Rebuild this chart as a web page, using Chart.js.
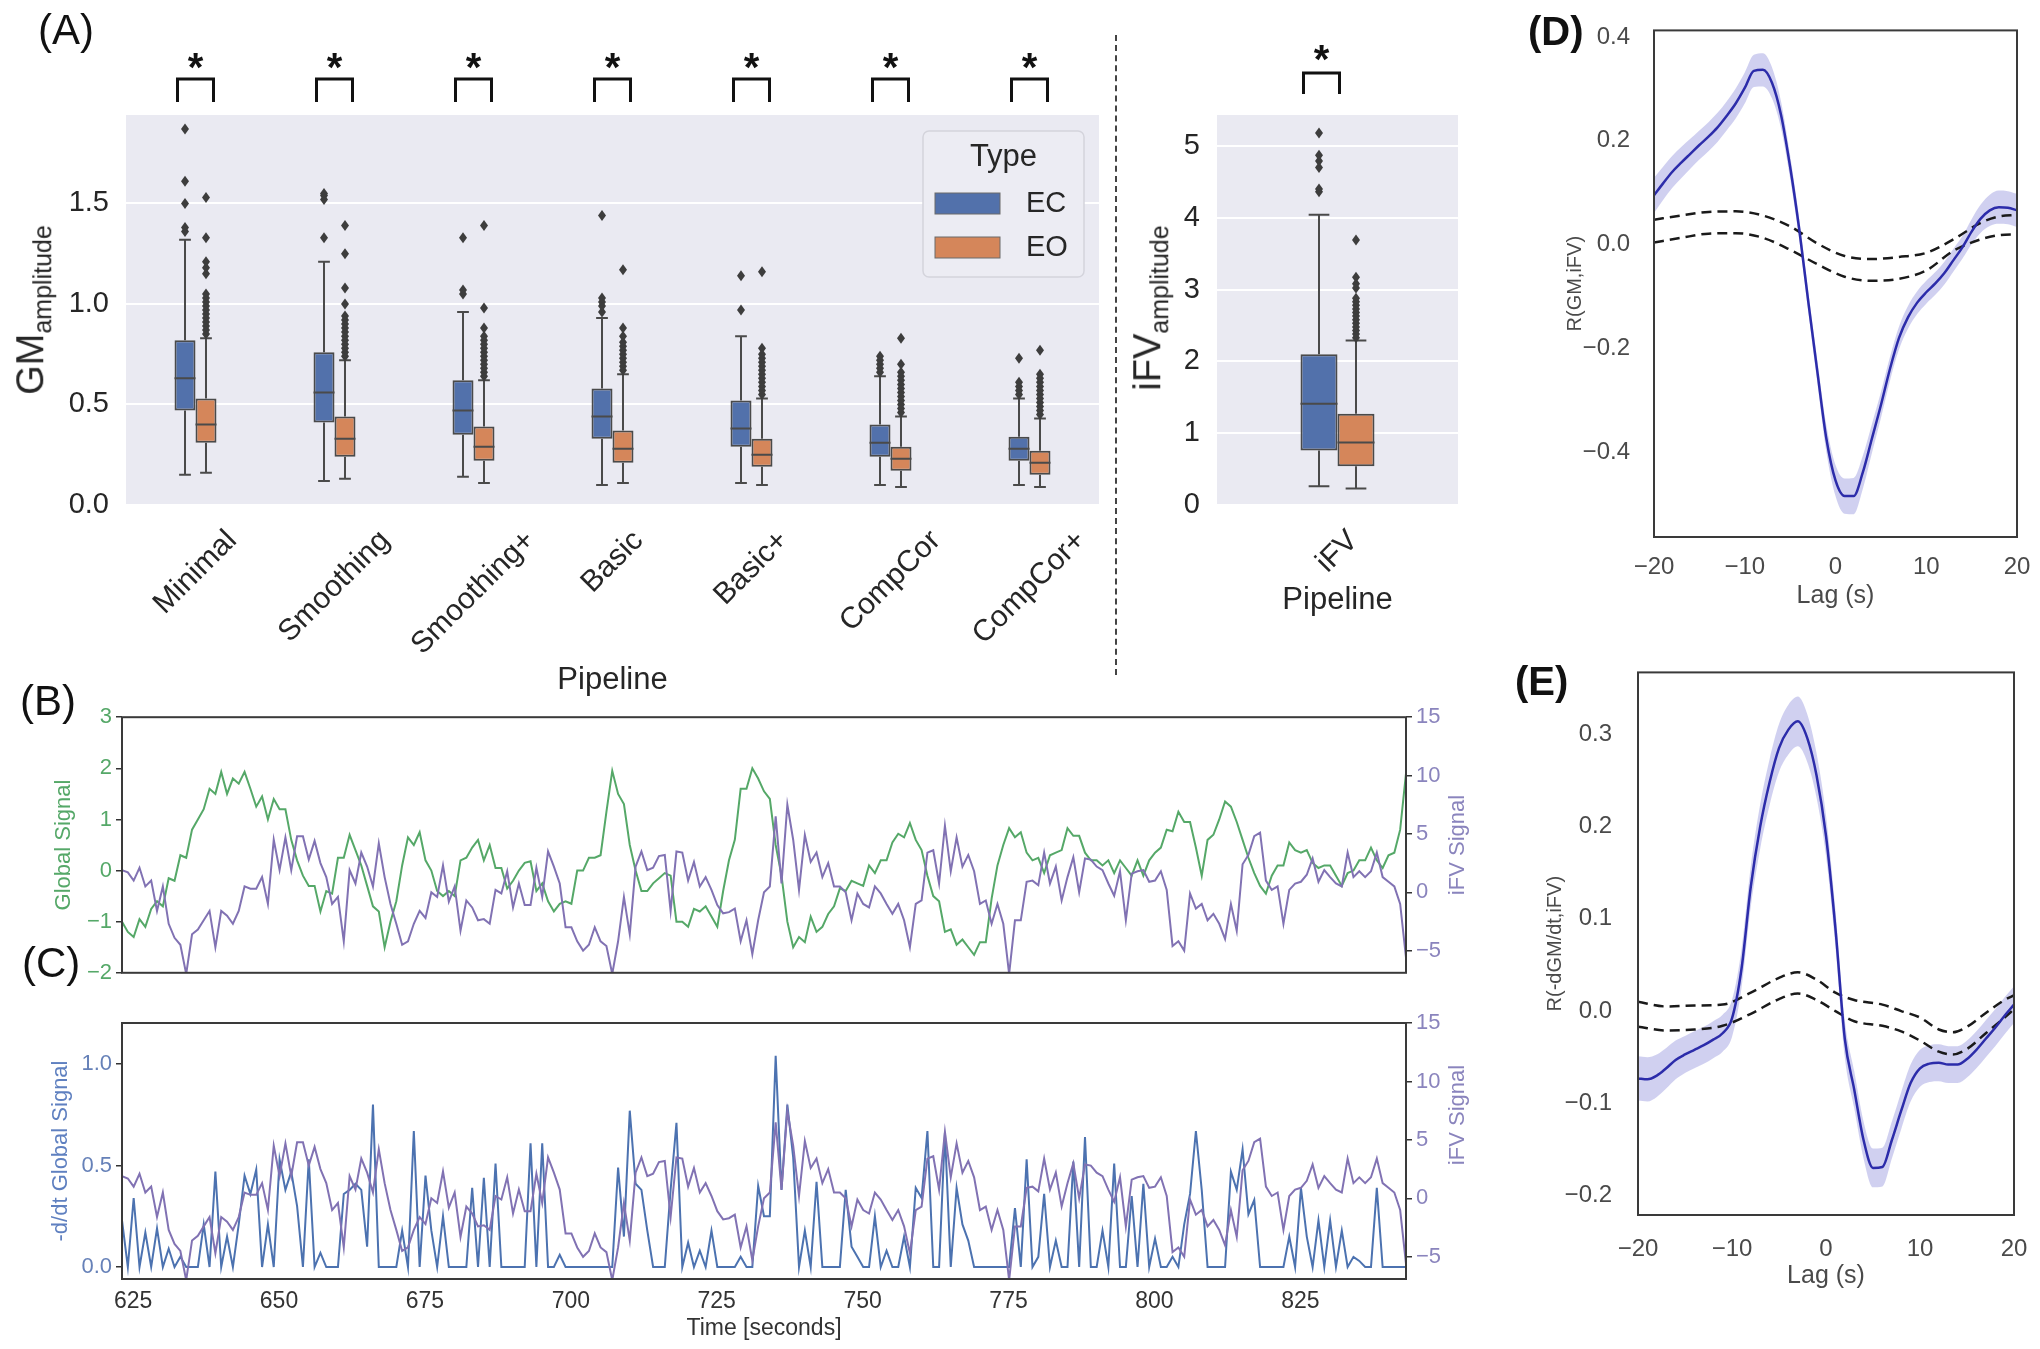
<!DOCTYPE html>
<html lang="en">
<head>
<meta charset="UTF-8">
<title>GM / iFV amplitude, signals and lagged correlation</title>
<script src="https://cdn.jsdelivr.net/npm/chart.js"></script>
<style>
  body { margin: 0; background: #fff; }
  #fig { position: relative; width: 2040px; height: 1349px; overflow: hidden;
         font-family: 'Liberation Sans', Arial, sans-serif; color: #262626; }
  #fig canvas { position: absolute; }
  .tag { position: absolute; font-size: 42px; line-height: 42px; color: #111; white-space: nowrap; }
  .tag.bold { font-weight: bold; font-size: 40px; line-height: 40px; }
  .vlab { position: absolute; white-space: nowrap; transform: translate(-50%, -50%) rotate(-90deg); }
  .vlab sub { font-size: 25px; vertical-align: -0.3em; }
  #divider { position: absolute; left: 1115px; top: 35px; height: 640px; border-left: 2px dashed #444; }
</style>
</head>
<body>
<div id="fig">
  <canvas id="cA" width="1110" height="700" style="left:0;top:0"></canvas>
  <canvas id="cI" width="350" height="700" style="left:1120px;top:0"></canvas>
  <canvas id="cD" width="480" height="640" style="left:1560px;top:0"></canvas>
  <canvas id="cE" width="520" height="709" style="left:1520px;top:640px"></canvas>
  <canvas id="cB" width="1480" height="290" style="left:0;top:700px"></canvas>
  <canvas id="cC" width="1480" height="359" style="left:0;top:990px"></canvas>

  <div id="divider"></div>
  <div class="tag" style="left:38px;top:9px">(A)</div>
  <div class="tag" style="left:20px;top:680px">(B)</div>
  <div class="tag" style="left:22px;top:942px">(C)</div>
  <div class="tag bold" style="left:1528px;top:11px">(D)</div>
  <div class="tag bold" style="left:1515px;top:661px">(E)</div>
  <div class="vlab" style="left:33px;top:310px;font-size:38px">GM<sub>amplitude</sub></div>
  <div class="vlab" style="left:1150px;top:308px;font-size:38px">iFV<sub>amplitude</sub></div>
  <div class="vlab" style="left:1457px;top:845px;font-size:22px;color:#8a84bd">iFV Signal</div>
  <div class="vlab" style="left:1457px;top:1115px;font-size:22px;color:#8a84bd">iFV Signal</div>
</div>

<script>
// ---- (A) box plots: [lower whisker, q1, median, q3, upper whisker]
const pipelines = ['Minimal', 'Smoothing', 'Smoothing+', 'Basic', 'Basic+', 'CompCor', 'CompCor+'];
const gmEC = [
  [0.15, 0.47, 0.63, 0.82, 1.32],
  [0.12, 0.41, 0.56, 0.76, 1.21],
  [0.14, 0.35, 0.47, 0.62, 0.96],
  [0.10, 0.33, 0.44, 0.58, 0.93],
  [0.11, 0.29, 0.38, 0.52, 0.84],
  [0.10, 0.24, 0.31, 0.40, 0.64],
  [0.10, 0.22, 0.28, 0.34, 0.53]
];
const gmEO = [
  [0.16, 0.31, 0.40, 0.53, 0.83],
  [0.13, 0.24, 0.33, 0.44, 0.72],
  [0.11, 0.22, 0.29, 0.39, 0.62],
  [0.11, 0.21, 0.28, 0.37, 0.65],
  [0.10, 0.19, 0.25, 0.33, 0.53],
  [0.09, 0.17, 0.23, 0.29, 0.44],
  [0.09, 0.15, 0.21, 0.27, 0.43]
];
const gmOutEC = [
  [1.36, 1.38, 1.50, 1.61, 1.87],
  [1.33, 1.52, 1.54, 1.55],
  [1.05, 1.07, 1.33],
  [0.96, 0.99, 1.01, 1.03, 1.44],
  [0.97, 1.14],
  [0.66, 0.68, 0.70, 0.72, 0.74],
  [0.55, 0.57, 0.59, 0.61, 0.73]
];
const gmOutEO = [
  [0.85, 0.87, 0.89, 0.91, 0.93, 0.95, 0.97, 0.99, 1.01, 1.03, 1.05, 1.15, 1.18, 1.21, 1.33, 1.53],
  [0.74, 0.76, 0.78, 0.80, 0.82, 0.84, 0.86, 0.88, 0.90, 0.92, 0.94, 1.00, 1.08, 1.25, 1.39],
  [0.64, 0.66, 0.68, 0.70, 0.72, 0.74, 0.76, 0.78, 0.80, 0.82, 0.84, 0.88, 0.98, 1.39],
  [0.67, 0.69, 0.71, 0.73, 0.75, 0.77, 0.79, 0.81, 0.84, 0.88, 1.17],
  [0.55, 0.57, 0.59, 0.61, 0.63, 0.65, 0.67, 0.69, 0.71, 0.73, 0.75, 0.78, 1.16],
  [0.46, 0.48, 0.50, 0.52, 0.54, 0.56, 0.58, 0.60, 0.62, 0.64, 0.66, 0.70, 0.83],
  [0.45, 0.47, 0.49, 0.51, 0.53, 0.55, 0.57, 0.59, 0.61, 0.63, 0.65, 0.77]
];
const gmTicks = [0, 0.5, 1.0, 1.5];

const ifvLabels = ['iFV'];
const ifvEC = [[0.26, 0.76, 1.41, 2.10, 4.04]];
const ifvEO = [[0.23, 0.54, 0.87, 1.27, 2.29]];
const ifvOutEC = [[4.36, 4.40, 4.70, 4.79, 4.87, 5.18]];
const ifvOutEO = [[2.33, 2.38, 2.43, 2.48, 2.53, 2.58, 2.63, 2.68, 2.73, 2.78, 2.83, 2.88, 3.02, 3.08, 3.17, 3.69]];
const ifvTicks = [0, 1, 2, 3, 4, 5];

// ---- (D)/(E) lagged correlation
const lag = [-20, -19, -18, -17, -16, -15, -14, -13, -12, -11, -10, -9, -8, -7, -6, -5, -4, -3, -2, -1,
             0, 1, 2, 3, 4, 5, 6, 7, 8, 9, 10, 11, 12, 13, 14, 15, 16, 17, 18, 19, 20];
const lagTicks = [-20, -10, 0, 10, 20];
const dMean = [0.095, 0.118, 0.140, 0.158, 0.175, 0.192, 0.208, 0.226, 0.248, 0.272, 0.302, 0.335, 0.337, 0.312,
               0.250, 0.150, 0.030, -0.110, -0.245, -0.375, -0.455, -0.485, -0.485, -0.440, -0.375, -0.310,
               -0.240, -0.180, -0.140, -0.112, -0.092, -0.075, -0.055, -0.030, -0.005, 0.025, 0.050, 0.066,
               0.072, 0.071, 0.066];
const dCi = [0.034, 0.032, 0.031, 0.030, 0.029, 0.028, 0.028, 0.028, 0.028, 0.029, 0.030, 0.031, 0.032, 0.030,
             0.026, 0.022, 0.020, 0.020, 0.022, 0.026, 0.030, 0.034, 0.035, 0.032, 0.028, 0.025, 0.023, 0.022,
             0.022, 0.022, 0.022, 0.022, 0.022, 0.022, 0.022, 0.024, 0.027, 0.030, 0.032, 0.032, 0.032];
const dNullLag = [-20, -17, -14, -11, -8, -5, -2, 1, 4, 7, 10, 13, 16, 18, 20];
const dNullHi = [0.048, 0.056, 0.063, 0.064, 0.056, 0.035, 0.002, -0.022, -0.028, -0.024, -0.016, 0.010, 0.042, 0.054, 0.057];
const dNullLo = [0.004, 0.013, 0.021, 0.022, 0.013, -0.010, -0.038, -0.062, -0.070, -0.066, -0.050, -0.012, 0.010, 0.018, 0.020];
const dTicks = [-0.4, -0.2, 0, 0.2, 0.4];

const eMean = [-0.073, -0.074, -0.070, -0.062, -0.053, -0.047, -0.042, -0.037, -0.031, -0.024, -0.008, 0.045,
               0.135, 0.200, 0.248, 0.285, 0.305, 0.314, 0.296, 0.255, 0.190, 0.090, -0.030, -0.085, -0.140,
               -0.170, -0.169, -0.140, -0.108, -0.078, -0.062, -0.057, -0.056, -0.058, -0.058, -0.052, -0.042,
               -0.030, -0.018, -0.005, 0.007];
const eCi = [0.024, 0.024, 0.023, 0.022, 0.021, 0.020, 0.020, 0.020, 0.020, 0.020, 0.020, 0.021, 0.022, 0.024,
             0.025, 0.026, 0.027, 0.027, 0.026, 0.024, 0.022, 0.020, 0.020, 0.020, 0.020, 0.021, 0.021, 0.020,
             0.020, 0.020, 0.020, 0.020, 0.020, 0.020, 0.020, 0.020, 0.020, 0.020, 0.020, 0.020, 0.020];
const eNullLag = [-20, -17, -14, -11, -8, -5, -3, -1, 1, 3, 6, 8, 10, 12, 13.5, 15, 17, 19, 20];
const eNullHi = [0.010, 0.005, 0.006, 0.007, 0.020, 0.036, 0.042, 0.034, 0.020, 0.012, 0.007, 0.000, -0.007,
                 -0.020, -0.023, -0.017, -0.002, 0.012, 0.017];
const eNullLo = [-0.017, -0.021, -0.020, -0.016, -0.003, 0.013, 0.019, 0.012, 0.000, -0.011, -0.016, -0.022,
                 -0.032, -0.044, -0.047, -0.041, -0.024, -0.007, 0.002];
const eTicks = [-0.2, -0.1, 0, 0.1, 0.2, 0.3];

// ---- (B)/(C) time series, one sample per second from tStart
const tStart = 623.1;
const gsSignal = [
  -1.0, -1.2, -1.3, -0.95, -1.1, -0.75, -0.6, -0.7, -0.15, -0.2,
  0.3, 0.25, 0.8, 1.0, 1.2, 1.6, 1.5, 1.93, 1.5, 1.8,
  1.7, 1.93, 1.6, 1.25, 1.45, 1.0, 1.4, 1.2, 1.2, 0.6,
  0.2, -0.1, -0.3, -0.3, -0.8, -0.4, -0.45, 0.25, 0.25, 0.7,
  0.4, 0.1, -0.3, -0.7, -0.8, -1.5, -1.0, -0.6, 0.1, 0.65,
  0.5, 0.75, 0.2, 0.0, -0.4, -0.5, -0.4, -0.5, 0.2, 0.25,
  0.45, 0.6, 0.2, 0.5, 0.05, 0.05, -0.35, -0.2, 0.0, 0.15,
  0.18, -0.4, -0.25, -0.6, -0.8, -0.65, -0.6, -0.65, 0.0, 0.0,
  0.25, 0.25, 0.3, 1.15, 1.95, 1.5, 1.3, 0.5, 0.0, -0.4,
  -0.4, -0.25, -0.15, -0.05, -0.1, -1.0, -1.0, -1.1, -0.75, -0.8,
  -0.7, -0.9, -1.1, -0.4, 0.2, 0.6, 1.6, 1.6, 2.0, 1.8,
  1.55, 1.4, 0.5, -0.1, -1.0, -1.5, -1.3, -1.4, -0.9, -1.2,
  -1.1, -0.85, -0.7, -0.35, -0.4, -0.2, -0.25, -0.3, 0.1, -0.05,
  0.2, 0.2, 0.55, 0.72, 0.65, 0.93, 0.6, 0.4, -0.1, -0.5,
  -0.6, -1.2, -1.15, -1.45, -1.35, -1.5, -1.65, -1.4, -1.4, -0.55,
  0.1, 0.5, 0.83, 0.65, 0.75, 0.35, 0.2, 0.25, -0.05, 0.3,
  0.35, 0.4, 0.83, 0.68, 0.68, 0.35, 0.2, 0.2, 0.1, 0.2,
  -0.05, 0.2, 0.05, -0.1, 0.2, -0.1, 0.2, 0.35, 0.45, 0.8,
  0.77, 1.15, 0.95, 0.95, 0.45, -0.1, 0.6, 0.7, 1.0, 1.35,
  1.25, 0.95, 0.6, 0.25, -0.05, -0.3, -0.45, -0.1, 0.1, 0.1,
  0.55, 0.4, 0.35, 0.4, 0.15, 0.05, 0.1, 0.1, -0.1, -0.3,
  -0.05, 0.0, 0.2, 0.2, 0.45, 0.2, 0.05, 0.3, 0.35, 0.8, 1.9
];
const ifvSignal = [
  1.9, 1.7, 1.0, 2.1, 0.5, 1.0, -1.6, 0.5, -2.7, -3.9,
  -4.5, -7.0, -3.6, -3.2, -2.4, -1.6, -4.7, -1.6, -2.0, -2.7,
  -1.6, 0.5, 0.3, 0.3, 1.3, -1.0, 4.5, 1.9, 4.7, 1.9,
  4.8, 4.8, 2.8, 4.4, 2.5, 1.3, -1.0, -0.4, -4.2, 1.9,
  0.75, 3.4, 2.2, 0.5, 4.2, 1.3, -1.0, -2.7, -4.5, -4.2,
  -2.7, -1.6, -2.2, 0.0, -0.4, 2.3, -0.8, 0.5, -3.3, -0.7,
  -1.3, -2.4, -2.3, -2.7, 0.2, -0.1, 1.8, -1.3, 0.75, -1.1,
  -1.1, 2.1, -0.4, 3.5, 2.2, 0.75, -3.0, -3.0, -4.2, -5.0,
  -4.5, -3.0, -4.2, -4.6, -7.0, -4.2, -0.4, -3.6, 2.2, 3.5,
  1.9, 2.1, 3.1, 3.2, -1.6, 3.5, 3.4, 1.0, 2.6, 0.5,
  1.3, 0.2, -1.1, -1.8, -1.7, -1.4, -4.2, -2.4, -5.3, -2.4,
  0.0, 0.5, 6.5, 0.75, 7.5, 4.5, 0.2, 4.9, 2.6, 3.4,
  1.3, 2.5, 0.5, 0.5, 0.0, -2.4, -0.1, -1.0, -1.3, 0.5,
  -0.1, -1.0, -1.85, -1.0, -2.4, -4.7, -1.0, -0.7, 3.4, 3.6,
  0.75, 5.7, 1.8, 4.7, 2.2, 3.2, 1.8, -1.0, -0.7, -2.7,
  -1.0, -2.7, -7.0, -2.4, -2.4, 0.9, 1.0, 0.6, 3.4, 0.75,
  2.2, -0.7, 1.3, 3.0, 0.0, 2.9, 2.8, 2.2, 1.9, 0.75,
  -0.3, 1.8, -2.4, 1.6, 1.8, 1.9, 0.9, 1.0, 1.8, 0.2,
  -4.6, -4.2, -5.0, -0.1, -1.4, -1.0, -2.4, -1.85, -2.7, -4.0,
  -1.0, -3.3, 2.4, 3.2, 4.8, 5.1, 1.0, 0.2, 0.5, -2.7,
  0.2, 0.75, 0.9, 1.5, 2.9, 0.9, 1.9, 1.3, 0.75, 0.5,
  3.4, 1.3, 1.8, 1.3, 1.8, 3.4, 1.3, 0.9, 0.5, -1.0, -5.6
];
const dgsSignal = [
  0.23, 0.0, 0.34, 0.0, 0.17, 0.0, 0.19, 0.0, 0.09, 0.0,
  0.05, 0.0, 0.0, 0.0, 0.21, 0.0, 0.47, 0.0, 0.15, 0.0,
  0.21, 0.45, 0.36, 0.48, 0.0, 0.21, 0.0, 0.53, 0.38, 0.47,
  0.3, 0.0, 0.53, 0.0, 0.07, 0.0, 0.0, 0.0, 0.36, 0.38,
  0.41, 0.38, 0.1, 0.8, 0.0, 0.0, 0.0, 0.0, 0.18, 0.0,
  0.67, 0.0, 0.45, 0.18, 0.0, 0.25, 0.0, 0.0, 0.0, 0.0,
  0.39, 0.0, 0.44, 0.0, 0.51, 0.0, 0.0, 0.0, 0.0, 0.0,
  0.61, 0.0, 0.61, 0.0, 0.0, 0.06, 0.0, 0.0, 0.0, 0.0,
  0.0, 0.0, 0.0, 0.0, 0.0, 0.49, 0.15, 0.77, 0.41, 0.38,
  0.18, 0.0, 0.0, 0.0, 0.38, 0.71, 0.0, 0.12, 0.0, 0.08,
  0.0, 0.18, 0.0, 0.0, 0.0, 0.0, 0.05, 0.0, 0.0, 0.4,
  0.25, 0.25, 1.04, 0.38, 0.8, 0.54, 0.0, 0.18, 0.0, 0.42,
  0.0, 0.0, 0.0, 0.0, 0.38, 0.1, 0.05, 0.0, 0.0, 0.25,
  0.0, 0.08, 0.0, 0.0, 0.15, 0.0, 0.39, 0.34, 0.67, 0.0,
  0.0, 0.66, 0.0, 0.39, 0.21, 0.13, 0.0, 0.0, 0.0, 0.0,
  0.0, 0.0, 0.0, 0.29, 0.0, 0.53, 0.0, 0.05, 0.36, 0.0,
  0.13, 0.0, 0.0, 0.52, 0.0, 0.64, 0.0, 0.0, 0.18, 0.0,
  0.51, 0.0, 0.0, 0.35, 0.0, 0.41, 0.0, 0.14, 0.0, 0.0,
  0.05, 0.0, 0.21, 0.36, 0.67, 0.38, 0.0, 0.0, 0.0, 0.0,
  0.47, 0.38, 0.58, 0.26, 0.33, 0.0, 0.0, 0.0, 0.0, 0.0,
  0.15, 0.0, 0.39, 0.15, 0.0, 0.23, 0.0, 0.23, 0.0, 0.18,
  0.0, 0.05, 0.03, 0.0, 0.0, 0.39, 0.0, 0.0, 0.0, 0.0, 0.0
];
const timeTicks = [625, 650, 675, 700, 725, 750, 775, 800, 825];
const gsTicks = [-2, -1, 0, 1, 2, 3];
const dgsTicks = [0, 0.5, 1.0];
const ifvSigTicks = [-5, 0, 5, 10, 15];

// ---- styling
const FONT = "'Liberation Sans', Arial, sans-serif";
const ecColor = '#5271ab', eoColor = '#d5865a', boxLine = '#4a4a4a';
const green = '#55a868', purple = '#8172b3', blue = '#4c72b0';
const purpleTxt = '#8a84bd';
Chart.defaults.font.family = FONT;
Chart.defaults.color = '#262626';
Chart.defaults.animation = false;
Chart.defaults.responsive = false;
Chart.defaults.plugins.legend.display = false;
Chart.defaults.plugins.tooltip.enabled = false;

const minus = s => String(s).replace('-', '\u2212');
const fixTicks = list => (scale => { scale.ticks = list.map(v => ({ value: v })); });
const pts = (xs, ys) => xs.map((x, i) => ({ x, y: ys[i] }));

// grey seaborn background behind the box plots
const plotBg = {
  id: 'plotBg',
  beforeDraw(chart) {
    const { ctx, chartArea: a } = chart;
    ctx.save();
    ctx.fillStyle = '#eaeaf2';
    ctx.fillRect(a.left, a.top, a.width, a.height);
    ctx.restore();
  }
};

// whiskers, caps, medians and outliers on top of the floating bars
const boxWhiskers = {
  id: 'boxWhiskers',
  afterDatasetsDraw(chart) {
    const ctx = chart.ctx, y = chart.scales.y;
    ctx.save();
    ctx.strokeStyle = boxLine;
    ctx.fillStyle = '#3d3d3d';
    ctx.lineWidth = 2;
    chart.data.datasets.forEach((ds, d) => {
      chart.getDatasetMeta(d).data.forEach((bar, i) => {
        const [lo, q1, med, q3, hi] = ds.stats[i].map(v => y.getPixelForValue(v));
        const x = bar.x, half = bar.width / 2, cap = bar.width * 0.28;
        ctx.beginPath();
        ctx.moveTo(x, q3); ctx.lineTo(x, hi);
        ctx.moveTo(x - cap, hi); ctx.lineTo(x + cap, hi);
        ctx.moveTo(x, q1); ctx.lineTo(x, lo);
        ctx.moveTo(x - cap, lo); ctx.lineTo(x + cap, lo);
        ctx.moveTo(x - half, med); ctx.lineTo(x + half, med);
        ctx.stroke();
        ds.outliers[i].forEach(v => {
          const py = y.getPixelForValue(v);
          ctx.beginPath();
          ctx.moveTo(x, py - 5.5); ctx.lineTo(x + 4, py); ctx.lineTo(x, py + 5.5); ctx.lineTo(x - 4, py);
          ctx.closePath();
          ctx.fill();
        });
      });
    });
    ctx.restore();
  }
};

// category labels rotated 45 degrees and centred on the tick (matplotlib style)
const slantLabels = {
  id: 'slantLabels',
  afterDraw(chart, args, o) {
    const ctx = chart.ctx, sc = chart.scales.x;
    ctx.save();
    ctx.font = o.size + 'px ' + FONT;
    ctx.fillStyle = o.color;
    ctx.textAlign = 'center';
    ctx.textBaseline = 'middle';
    chart.data.labels.forEach((lab, i) => {
      const w = ctx.measureText(lab).width;
      const half = (w + o.size * 0.75) * Math.SQRT1_2 / 2;
      ctx.save();
      ctx.translate(sc.getPixelForValue(i), sc.top + o.gap + half);
      ctx.rotate(-Math.PI / 4);
      ctx.fillText(lab, 0, 0);
      ctx.restore();
    });
    ctx.restore();
  }
};

// significance brackets with stars above each category
const sigBrackets = {
  id: 'sigBrackets',
  afterDraw(chart, args, o) {
    const ctx = chart.ctx, sc = chart.scales.x;
    ctx.save();
    ctx.strokeStyle = '#111';
    ctx.fillStyle = '#111';
    ctx.lineWidth = 3;
    ctx.font = 'bold 40px ' + FONT;
    ctx.textAlign = 'center';
    ctx.textBaseline = 'alphabetic';
    chart.data.labels.forEach((lab, i) => {
      const cx = sc.getPixelForValue(i) + o.shift;
      ctx.beginPath();
      ctx.moveTo(cx - o.half, o.legY);
      ctx.lineTo(cx - o.half, o.barY);
      ctx.lineTo(cx + o.half, o.barY);
      ctx.lineTo(cx + o.half, o.legY);
      ctx.stroke();
      ctx.fillText('*', cx, o.starY);
    });
    ctx.restore();
  }
};

// "Type" legend box inside the upper right of the plot
const typeLegend = {
  id: 'typeLegend',
  afterDraw(chart, args, o) {
    const ctx = chart.ctx, a = chart.chartArea;
    const w = 161, h = 146;
    const x0 = a.right - 15 - w, y0 = a.top + 16;
    ctx.save();
    ctx.fillStyle = '#ececf3';
    ctx.strokeStyle = '#d4d4dc';
    ctx.lineWidth = 1.5;
    ctx.beginPath();
    ctx.roundRect(x0, y0, w, h, 6);
    ctx.fill();
    ctx.stroke();
    ctx.fillStyle = '#262626';
    ctx.textBaseline = 'middle';
    ctx.textAlign = 'center';
    ctx.font = '31px ' + FONT;
    ctx.fillText(o.title, x0 + w / 2, y0 + 26);
    ctx.textAlign = 'left';
    ctx.font = '29px ' + FONT;
    chart.data.datasets.forEach((ds, k) => {
      const py = y0 + 62 + k * 44;
      ctx.fillStyle = ds.backgroundColor;
      ctx.fillRect(x0 + 12, py, 65, 21);
      ctx.strokeStyle = '#6a6a6a';
      ctx.lineWidth = 1;
      ctx.strokeRect(x0 + 12, py, 65, 21);
      ctx.fillStyle = '#262626';
      ctx.fillText(ds.label, x0 + 103, py + 11);
    });
    ctx.restore();
  }
};

// box frame around line plots
const frameBox = {
  id: 'frameBox',
  afterDatasetsDraw(chart, args, o) {
    const { ctx, chartArea: a } = chart;
    ctx.save();
    ctx.strokeStyle = o.color || '#333';
    ctx.lineWidth = o.width || 2;
    ctx.strokeRect(a.left, a.top, a.width, a.height);
    ctx.restore();
  }
};

function makeBoxChart(id, o) {
  return new Chart(document.getElementById(id), {
    type: 'bar',
    data: {
      labels: o.labels,
      datasets: [
        { label: 'EC', data: o.ec.map(s => [s[1], s[3]]), stats: o.ec, outliers: o.ecOut,
          backgroundColor: ecColor, borderColor: boxLine, borderWidth: 2, borderSkipped: false,
          categoryPercentage: o.catPct, barPercentage: 1 },
        { label: 'EO', data: o.eo.map(s => [s[1], s[3]]), stats: o.eo, outliers: o.eoOut,
          backgroundColor: eoColor, borderColor: boxLine, borderWidth: 2, borderSkipped: false,
          categoryPercentage: o.catPct, barPercentage: 1 }
      ]
    },
    options: {
      layout: { padding: { top: 115, right: o.right, left: 0, bottom: 0 } },
      plugins: {
        slantLabels: { size: 30, color: '#262626', gap: 23 },
        sigBrackets: o.bracket,
        typeLegend: o.legend
      },
      scales: {
        x: {
          grid: { display: false }, border: { display: false }, ticks: { display: false },
          afterFit: s => { s.height = 195; },
          title: { display: true, text: 'Pipeline', font: { size: 31 }, color: '#262626',
                   padding: { top: 0, bottom: o.titlePad } }
        },
        y: {
          min: 0, max: o.yMax,
          afterBuildTicks: fixTicks(o.ticks),
          afterFit: s => { s.width = o.yWidth; },
          grid: { color: '#ffffff', lineWidth: 2, drawTicks: false },
          border: { display: false },
          ticks: { padding: 17, font: { size: 29 }, color: '#262626', callback: o.fmt }
        }
      }
    },
    plugins: [plotBg, boxWhiskers, slantLabels, sigBrackets, typeLegend]
  });
}

makeBoxChart('cA', {
  labels: pipelines, ec: gmEC, eo: gmEO, ecOut: gmOutEC, eoOut: gmOutEO,
  catPct: 0.302, right: 11, yWidth: 126, yMax: 1.94, ticks: gmTicks, titlePad: 1,
  fmt: v => v.toFixed(1),
  bracket: { half: 18, shift: 0, barY: 79, legY: 102, starY: 81 },
  legend: { title: 'Type' }
});

makeBoxChart('cI', {
  labels: ifvLabels, ec: ifvEC, eo: ifvEO, ecOut: ifvOutEC, eoOut: ifvOutEO,
  catPct: 0.307, right: 12, yWidth: 97, yMax: 5.43, ticks: ifvTicks, titlePad: 81,
  fmt: v => String(v),
  bracket: { half: 18, shift: -16, barY: 73, legY: 94, starY: 73 },
  legend: false
});

function makeLagChart(id, o) {
  const band = 'rgba(98, 98, 205, 0.30)';
  return new Chart(document.getElementById(id), {
    type: 'line',
    data: {
      datasets: [
        { data: lag.map((x, i) => ({ x, y: o.mean[i] + o.ci[i] })), borderWidth: 0, pointRadius: 0,
          fill: '+1', backgroundColor: band, cubicInterpolationMode: 'monotone', order: 3 },
        { data: lag.map((x, i) => ({ x, y: o.mean[i] - o.ci[i] })), borderWidth: 0, pointRadius: 0,
          fill: false, cubicInterpolationMode: 'monotone', order: 3 },
        { data: pts(lag, o.mean), borderColor: '#2c2caa', borderWidth: 2.5, pointRadius: 0,
          fill: false, cubicInterpolationMode: 'monotone', order: 1 },
        { data: pts(o.nullLag, o.nullHi), borderColor: '#1a1a1a', borderWidth: 2.5, borderDash: [10, 6],
          pointRadius: 0, fill: false, cubicInterpolationMode: 'monotone', order: 2 },
        { data: pts(o.nullLag, o.nullLo), borderColor: '#1a1a1a', borderWidth: 2.5, borderDash: [10, 6],
          pointRadius: 0, fill: false, cubicInterpolationMode: 'monotone', order: 2 }
      ]
    },
    options: {
      layout: { padding: { top: o.top, right: o.right, left: 0, bottom: 0 } },
      plugins: { frameBox: { color: '#3a3a3a', width: 2 } },
      scales: {
        x: {
          type: 'linear', min: -20, max: 20,
          afterBuildTicks: fixTicks(lagTicks),
          afterFit: s => { s.height = o.xHeight; },
          grid: { display: false }, border: { display: false },
          ticks: { padding: o.xPad, maxRotation: 0, font: { size: 24 }, color: '#4a4a4a', callback: v => minus(v) },
          title: { display: true, text: 'Lag (s)', font: { size: 25 }, color: '#4a4a4a',
                   padding: { top: 0, bottom: o.xTitlePad } }
        },
        y: {
          min: o.yMin, max: o.yMax,
          afterBuildTicks: fixTicks(o.ticks),
          afterFit: s => { s.width = o.yWidth; },
          grid: { display: false }, border: { display: false },
          ticks: { padding: o.yPad, font: { size: 24 }, color: '#4a4a4a', callback: v => minus(v.toFixed(1)) },
          title: { display: true, text: o.yTitle, font: { size: 20 }, color: '#4a4a4a',
                   padding: { top: o.yTitlePad, bottom: 0 } }
        }
      }
    },
    plugins: [frameBox]
  });
}

makeLagChart('cD', {
  mean: dMean, ci: dCi, nullLag: dNullLag, nullHi: dNullHi, nullLo: dNullLo,
  yMin: -0.564, yMax: 0.413, ticks: dTicks, yTitle: 'R(GM,iFV)',
  top: 11, right: 23, yWidth: 94, xHeight: 103, xPad: 8, xTitlePad: 29, yPad: 16, yTitlePad: 3
});

makeLagChart('cE', {
  mean: eMean, ci: eCi, nullLag: eNullLag, nullHi: eNullHi, nullLo: eNullLo,
  yMin: -0.221, yMax: 0.367, ticks: eTicks, yTitle: 'R(-dGM/dt,iFV)',
  top: 27, right: 26, yWidth: 118, xHeight: 134, xPad: 12, xTitlePad: 58, yPad: 18, yTitlePad: 23
});

// time axis shared by (B) and (C)
const sampleTimes = gsSignal.map((v, i) => tStart + i);
const tEnd = sampleTimes[sampleTimes.length - 1];
const tickMarks = { drawOnChartArea: false, drawTicks: true, tickLength: 6, color: '#333', lineWidth: 1.5 };

new Chart(document.getElementById('cB'), {
  type: 'line',
  data: {
    datasets: [
      { data: pts(sampleTimes, ifvSignal), yAxisID: 'y2', borderColor: purple, borderWidth: 2, pointRadius: 0 },
      { data: pts(sampleTimes, gsSignal), yAxisID: 'y', borderColor: green, borderWidth: 2, pointRadius: 0 }
    ]
  },
  options: {
    layout: { padding: { top: 17, bottom: 17, left: 0, right: 0 } },
    plugins: { frameBox: { color: '#3a3a3a', width: 2 } },
    scales: {
      x: { type: 'linear', display: false, min: tStart, max: tEnd },
      y: {
        position: 'left', min: -2, max: 3,
        afterBuildTicks: fixTicks(gsTicks), afterFit: s => { s.width = 122; },
        grid: tickMarks, border: { display: false },
        ticks: { padding: 4, font: { size: 22 }, color: green, callback: v => minus(v) },
        title: { display: true, text: 'Global Signal', color: green, font: { size: 22 }, padding: { top: 51, bottom: 0 } }
      },
      y2: {
        position: 'right', min: -6.9, max: 15,
        afterBuildTicks: fixTicks(ifvSigTicks), afterFit: s => { s.width = 74; },
        grid: tickMarks, border: { display: false },
        ticks: { padding: 4, font: { size: 22 }, color: purpleTxt, callback: v => minus(v) }
      }
    }
  },
  plugins: [frameBox]
});

new Chart(document.getElementById('cC'), {
  type: 'line',
  data: {
    datasets: [
      { data: pts(sampleTimes, ifvSignal), yAxisID: 'y2', borderColor: purple, borderWidth: 2, pointRadius: 0 },
      { data: pts(sampleTimes, dgsSignal), yAxisID: 'y', borderColor: blue, borderWidth: 2, pointRadius: 0 }
    ]
  },
  options: {
    layout: { padding: { top: 33, bottom: 0, left: 0, right: 0 } },
    plugins: { frameBox: { color: '#3a3a3a', width: 2 } },
    scales: {
      x: {
        type: 'linear', min: tStart, max: tEnd,
        afterBuildTicks: fixTicks(timeTicks), afterFit: s => { s.height = 70; },
        grid: { display: false }, border: { display: false },
        ticks: { padding: 1, maxRotation: 0, autoSkip: false, font: { size: 23 }, color: '#333' },
        title: { display: true, text: 'Time [seconds]', font: { size: 23 }, color: '#333', padding: { top: 0, bottom: 7 } }
      },
      y: {
        position: 'left', min: -0.059, max: 1.202,
        afterBuildTicks: fixTicks(dgsTicks), afterFit: s => { s.width = 122; },
        grid: tickMarks, border: { display: false },
        ticks: { padding: 4, font: { size: 22 }, color: '#6681b8', callback: v => v.toFixed(1) },
        title: { display: true, text: '-d/dt Global Signal', color: '#5f80c0', font: { size: 22 }, padding: { top: 48, bottom: 0 } }
      },
      y2: {
        position: 'right', min: -6.9, max: 15,
        afterBuildTicks: fixTicks(ifvSigTicks), afterFit: s => { s.width = 74; },
        grid: tickMarks, border: { display: false },
        ticks: { padding: 4, font: { size: 22 }, color: purpleTxt, callback: v => minus(v) }
      }
    }
  },
  plugins: [frameBox]
});
</script>
</body>
</html>
